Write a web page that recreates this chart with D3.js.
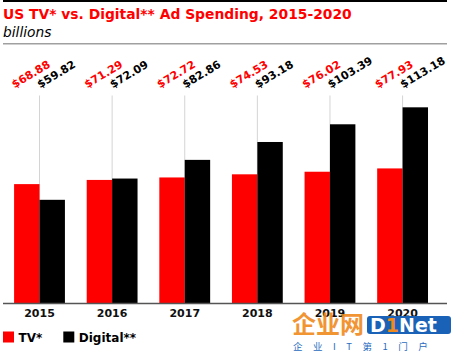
<!DOCTYPE html>
<html>
<head>
<meta charset="utf-8">
<script src="https://cdn.jsdelivr.net/npm/d3@7"></script>
<style>
  html, body { margin: 0; padding: 0; background: #fff; }
  svg { display: block; }
</style>
</head>
<body>
<svg id="chart" width="451" height="355"></svg>
<script>
// ---- data ----
const years = ["2015", "2016", "2017", "2018", "2019", "2020"];
const seriesNames = ["TV*", "Digital**"];
const tvValues = [68.88, 71.29, 72.72, 74.53, 76.02, 77.93];
const digitalValues = [59.82, 72.09, 82.86, 93.18, 103.39, 113.18];
const seriesColors = ["#ff0000", "#000000"];
const titleText = "US TV* vs. Digital** Ad Spending, 2015-2020";
const subtitleText = "billions";

const FONT = "'DejaVu Sans', Verdana, sans-serif";
const svg = d3.select("#chart");

const seriesValues = [tvValues, digitalValues];
const rows = years.map((yr, i) => ({
  year: yr,
  values: seriesNames.map((s, k) => ({ series: s, k, value: seriesValues[k][i] }))
}));

// ---- header ----
svg.append("rect").attr("x", 3).attr("y", 0).attr("width", 444).attr("height", 2).attr("fill", "#000");

function fit(sel, target) {
  const w = sel.node().getComputedTextLength();
  const fs = parseFloat(sel.attr("font-size"));
  sel.attr("font-size", (fs * target / w).toFixed(2));
}

const title = svg.append("text")
  .attr("x", 3).attr("y", 18.5)
  .attr("font-family", FONT).attr("font-weight", "bold").attr("font-size", 14)
  .attr("fill", "#ff0000").text(titleText);
fit(title, 349);

const sub = svg.append("text")
  .attr("x", 3).attr("y", 36.5)
  .attr("font-family", FONT).attr("font-style", "italic").attr("font-size", 13.5)
  .attr("fill", "#000").text(subtitleText);
fit(sub, 48.5);

svg.append("rect").attr("x", 3).attr("y", 43).attr("width", 444).attr("height", 1.5).attr("fill", "#a0a0a0");

// ---- scales ----
const x0 = d3.scaleBand().domain(years).range([3.2, 438.9]).paddingInner(0.3).paddingOuter(0.15);
const x1 = d3.scaleBand().domain(seriesNames).range([0, x0.bandwidth()]);
const y = d3.scaleLinear().domain([0, 120]).range([303.5, 95.5]);

// gridlines at band centers
svg.append("g").selectAll("line").data(years).join("line")
  .attr("x1", d => x0(d) + x0.bandwidth() / 2)
  .attr("x2", d => x0(d) + x0.bandwidth() / 2)
  .attr("y1", y(120)).attr("y2", y(0))
  .attr("stroke", "#d4d4d4").attr("stroke-width", 1);

// bars
const groups = svg.append("g").selectAll("g").data(rows).join("g")
  .attr("transform", d => `translate(${x0(d.year)},0)`);

groups.selectAll("rect").data(d => d.values).join("rect")
  .attr("x", d => x1(d.series))
  .attr("width", x1.bandwidth())
  .attr("y", d => y(d.value))
  .attr("height", d => y(0) - y(d.value))
  .attr("fill", d => seriesColors[d.k]);

// value labels (rotated)
groups.selectAll("text").data(d => d.values).join("text")
  .attr("transform", d => `translate(${x1(d.series) + 0.5},88.5) rotate(-31)`)
  .attr("font-family", FONT).attr("font-weight", "bold").attr("font-size", 11)
  .attr("fill", d => seriesColors[d.k])
  .text(d => "$" + d.value.toFixed(2));

// x axis
const xAxis = d3.axisBottom(x0).tickSize(0).tickPadding(0);
const ax = svg.append("g").attr("transform", `translate(0,${y(0)})`).call(xAxis);
ax.select(".domain").remove();
ax.selectAll("text")
  .attr("y", 13.8).attr("dy", null)
  .attr("font-family", FONT).attr("font-weight", "bold").attr("font-size", 11)
  .attr("fill", "#111");
svg.append("line").attr("x1", 3).attr("x2", 447).attr("y1", y(0)).attr("y2", y(0))
  .attr("stroke", "#555").attr("stroke-width", 1.5);

// legend
const legendX = [3, 63.3];
const leg = svg.append("g").selectAll("g").data(seriesNames).join("g")
  .attr("transform", (d, i) => `translate(${legendX[i]},331.5)`);
leg.append("rect").attr("width", 11).attr("height", 11).attr("fill", (d, i) => seriesColors[i]);
leg.append("text").attr("x", 15.5).attr("y", 10.3)
  .attr("font-family", FONT).attr("font-weight", "bold").attr("font-size", 12)
  .attr("fill", "#000").text(d => d);

// watermark
const wm = svg.append("g");
wm.append("text").attr("x", 292).attr("y", 333)
  .attr("font-family", "'Noto Sans CJK SC', sans-serif").attr("font-weight", "bold").attr("font-size", 24)
  .attr("fill", "#f08a1c").attr("opacity", 0.9).text("企业网");
wm.append("rect").attr("x", 367).attr("y", 316).attr("width", 84).attr("height", 18).attr("rx", 3)
  .attr("fill", "#1a62b8");
const dn = wm.append("text").attr("x", 370).attr("y", 332)
  .attr("font-family", FONT).attr("font-weight", "bold").attr("font-size", 19)
  .attr("fill", "#fff");
dn.append("tspan").text("D");
dn.append("tspan").attr("fill", "#f08a1c").text("1");
dn.append("tspan").text("Net");
wm.append("text").attr("x", 293).attr("y", 350)
  .attr("font-family", "'Noto Sans CJK SC', sans-serif").attr("font-size", 9.5)
  .attr("fill", "#2a6cc0").attr("letter-spacing", 10.5).text("企业IT第1门户");
</script>
</body>
</html>
